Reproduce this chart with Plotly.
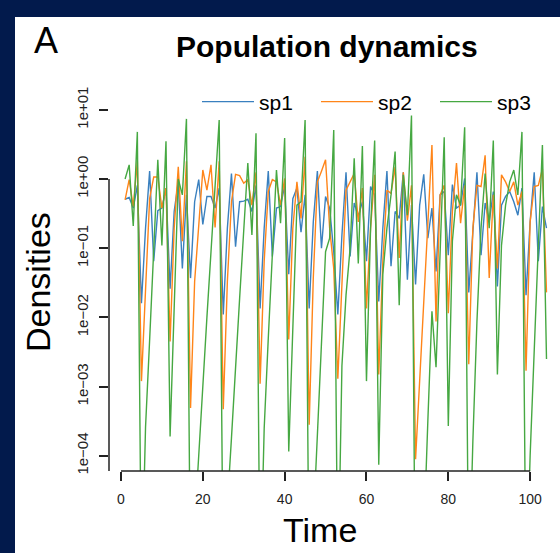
import plotly.graph_objects as go

time = list(range(1, 105))

sp1 = [0.51, 0.54, 0.38, 0.81, 0.016, 0.195, 1.3, 0.065, 0.35, 0.38,
       0.74, 0.026, 0.34, 0.91, 0.051, 0.59, 0.037, 0.47, 0.98, 0.22,
       0.56, 0.56, 0.38, 0.74, 0.011, 0.195, 1.2, 0.105, 0.47, 0.48,
       0.51, 0.34, 0.81, 0.0135, 0.195, 1.3, 0.076, 0.38, 0.4, 0.81,
       0.042, 0.52, 0.74, 0.17, 0.59, 0.0135, 0.24, 1.3, 0.1, 0.56,
       0.38, 0.089, 0.011, 0.155, 1.25, 0.076, 0.45, 0.29, 0.47, 0.065,
       0.78, 0.59, 0.017, 0.195, 1.3, 0.055, 0.34, 0.27, 1.25, 0.035,
       0.42, 0.03, 0.42, 1.17, 0.14, 0.38, 0.046, 0.59, 0.66, 0.079,
       0.83, 0.38, 0.42, 1.02, 0.023, 0.195, 1.25, 0.079, 0.45, 0.24,
       0.66, 0.028, 0.42, 0.56, 0.66, 0.47, 0.30, 0.74, 0.021, 0.24,
       1.25, 0.065, 0.4, 0.195]

sp2 = [0.5, 0.98, 0.4, 1.8, 0.0012, 0.021, 0.52, 1.07, 1.07, 0.38,
       0.74, 0.0045, 0.195, 1.5, 0.126, 1.8, 4.9e-4, 0.033, 0.195, 1.35,
       0.69, 1.6, 0.2, 1.8, 4.7e-4, 0.033, 0.47, 1.17, 1.12, 0.87,
       0.98, 0.42, 1.25, 0.0011, 0.065, 0.66, 0.98, 0.91, 0.42, 1.02,
       0.0048, 0.195, 0.91, 0.27, 2.1, 2.8e-4, 0.037, 0.91, 1.3, 1.9,
       0.195, 0.051, 0.0013, 0.037, 0.69, 0.91, 1.2, 0.24, 0.74, 0.0135,
       0.195, 1.15, 0.0015, 0.065, 0.69, 0.62, 1.5, 0.072, 1.25, 0.25,
       0.81, 8.9e-5, 0.0011, 0.019, 0.24, 3.1, 0.0087, 0.59, 0.81, 0.0115,
       0.34, 1.7, 0.23, 0.81, 0.0021, 0.195, 0.81, 0.78, 2.2, 0.037,
       0.59, 0.051, 1.15, 0.91, 0.66, 0.91, 0.42, 0.66, 0.0017, 0.24,
       0.78, 0.81, 1.4, 0.023]

sp3 = [1.0, 1.6, 0.21, 4.8, 1e-6, 2.6e-4, 0.0047, 0.105, 1.9, 0.11,
       3.5, 1.9e-4, 0.021, 1.0, 0.59, 7.4, 1e-6, 1.1e-5, 1.2e-4, 0.0011,
       0.01, 0.089, 0.79, 7.1, 1e-6, 1.9e-5, 1.8e-4, 0.0021, 0.019, 0.18,
       1.7, 0.155, 4.6, 1e-6, 2.5e-4, 0.005, 0.081, 1.35, 0.23, 3.9,
       1.15e-4, 0.01, 0.42, 0.47, 7.1, 1e-6, 1e-5, 2e-4, 0.004, 0.089,
       0.14, 5.1, 1e-6, 0.002, 0.021, 0.1, 2.0, 0.06, 3.0, 0.0012,
       0.195, 3.6, 7.4e-5, 0.042, 0.195, 0.59, 2.5, 0.015, 1.15, 0.3,
       8.3, 3e-7, 1e-6, 6.3e-6, 3.2e-4, 0.0123, 0.0019, 0.1, 4.0, 2.7e-4,
       0.126, 0.59, 0.42, 5.6, 1e-6, 1.6e-4, 0.0087, 0.195, 1.2, 0.195,
       3.6, 0.0015, 0.11, 0.42, 0.91, 1.35, 0.59, 4.8, 1e-6, 1e-4,
       0.0045, 0.11, 3.1, 0.0025]

series = [("sp1", sp1, "#3a80bf"), ("sp2", sp2, "#ff8519"), ("sp3", sp3, "#46a842")]

x_ticks = [0, 20, 40, 60, 80, 100]
y_ticks = [1e-4, 1e-3, 1e-2, 1e-1, 1e0, 1e1]
y_ticktext = ["1e\u221204", "1e\u221203", "1e\u221202", "1e\u221201", "1e+00", "1e+01"]

W, H = 560, 553
L, R, T, B = 109, 560, 96, 471

def px(x):
    return (x - L) / (R - L)

def py(y):
    return (B - y) / (B - T)

fig = go.Figure()
for name, vals, col in series:
    fig.add_trace(go.Scatter(x=time, y=vals, mode="lines", name=name,
                             line=dict(color=col, width=1.4)))

axis_col = "#222222"
fig.update_layout(
    width=W, height=H,
    margin=dict(l=L, r=W - R, t=T, b=H - B, pad=0),
    paper_bgcolor="#021a4c",
    plot_bgcolor="white",
    font=dict(family="Liberation Sans, Arial, sans-serif", color="black"),
    showlegend=True,
    legend=dict(orientation="h", x=px(197), y=py(102), xanchor="left", yanchor="middle",
                font=dict(size=21, color="black"), bgcolor="rgba(0,0,0,0)",
                itemwidth=52, entrywidth=52, entrywidthmode="pixels"),
    xaxis=dict(range=[-2.93, 107.3], tickvals=x_ticks, ticks="outside", ticklen=9,
               tickwidth=1.5, tickcolor=axis_col, showgrid=False, zeroline=False,
               showline=False, tickfont=dict(size=14, color="#222222"),
               ticklabelstandoff=6),
    yaxis=dict(type="log", range=[-4.22, 1.2], tickvals=y_ticks, ticktext=y_ticktext,
               ticks="outside", ticklen=9, tickwidth=1.5, tickcolor=axis_col,
               showgrid=False, zeroline=False, showline=False, tickangle=-90,
               tickfont=dict(size=15, color="#222222"), ticklabelstandoff=5),
    shapes=[
        dict(type="rect", xref="paper", yref="paper", x0=px(15), x1=px(W + 5),
             y0=py(H + 5), y1=py(17), fillcolor="white", line=dict(width=0), layer="below"),
        dict(type="line", xref="x", yref="paper", x0=0, x1=100, y0=0, y1=0,
             line=dict(color=axis_col, width=1.5)),
        dict(type="line", xref="paper", yref="y", x0=0, x1=0, y0=-4, y1=1,
             line=dict(color=axis_col, width=1.5)),
    ],
    annotations=[
        dict(text="<b>Population dynamics</b>", xref="paper", yref="paper",
             x=px(327), y=py(46), xanchor="center", yanchor="middle",
             showarrow=False, font=dict(size=30, color="black")),
        dict(text="A", xref="paper", yref="paper", x=px(46), y=py(41),
             xanchor="center", yanchor="middle", showarrow=False,
             font=dict(size=36, color="black")),
        dict(text="Time", xref="paper", yref="paper", x=px(320), y=py(530),
             xanchor="center", yanchor="middle", showarrow=False,
             font=dict(size=34, color="black")),
        dict(text="Densities", xref="paper", yref="paper", x=px(38), y=py(282),
             xanchor="center", yanchor="middle", showarrow=False, textangle=-90,
             font=dict(size=34, color="black")),
    ],
)

fig.write_html("out.html", config={"displayModeBar": False},
               post_script="document.body.style.margin='0px';")
